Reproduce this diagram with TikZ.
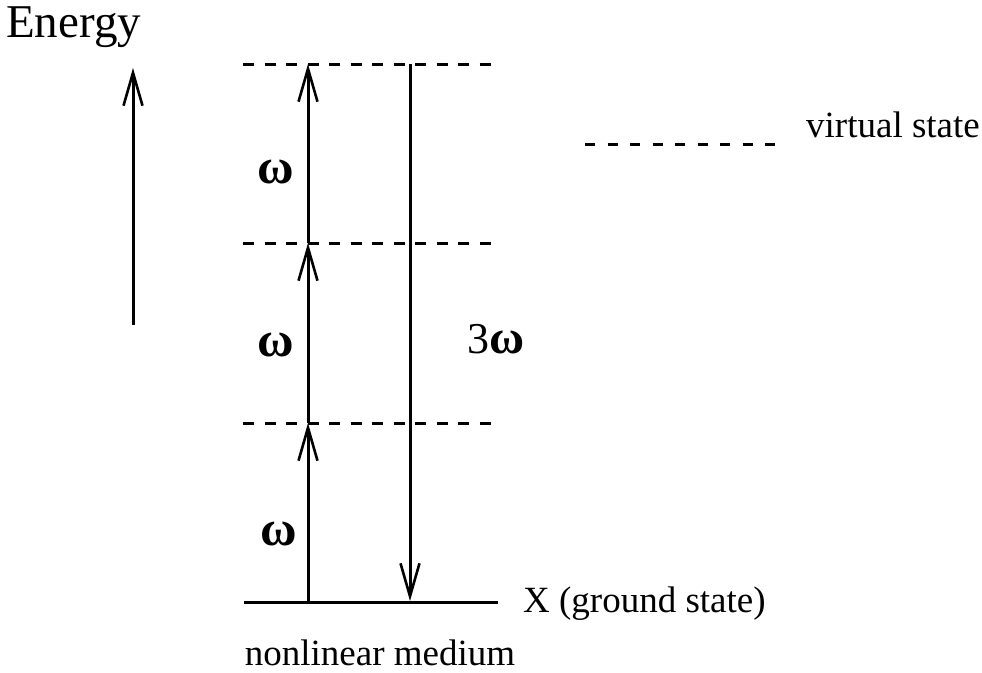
\documentclass[tikz,border=0pt]{standalone}
\usepackage{fontspec}
\setmainfont{Liberation Serif}
\usetikzlibrary{arrows.meta}
\tikzset{
  lvl/.style={line width=3pt, dash pattern=on 11pt off 10.5pt},
  gnd/.style={line width=3pt},
  photon/.style={line width=3pt, -{Straight Barb[length=33pt,width=19pt,line width=2.6pt]}},
  lbl/.style={inner sep=0pt, font=\fontsize{37}{44}\selectfont},
  big/.style={inner sep=0pt, font=\fontsize{44}{52}\selectfont},
  omg/.style={inner sep=0pt, font=\fontsize{50}{56}\selectfont\bfseries},
}
\begin{document}
\begin{tikzpicture}[x=1pt,y=-1pt]
\useasboundingbox (0,0) rectangle (982,672);
% energy axis
\coordinate (eb) at (133,325);
\coordinate (et) at (133,68);
\draw[photon] (eb) -- (et);
\node[big, font=\fontsize{47}{52}\selectfont, anchor=base west] (energy) at (6,37) {Energy};
% levels
\coordinate (l3a) at (243,64);  \coordinate (l3b) at (495,64);
\coordinate (l2a) at (243,243); \coordinate (l2b) at (495,243);
\coordinate (l1a) at (243,423); \coordinate (l1b) at (495,423);
\coordinate (g0a) at (244,602); \coordinate (g0b) at (498,602);
\draw[lvl] (l3a) -- (l3b);
\draw[lvl] (l2a) -- (l2b);
\draw[lvl] (l1a) -- (l1b);
\draw[gnd] (g0a) -- (g0b);
% up photons
\coordinate (u0) at (308,602);
\coordinate (u1) at (308,423);
\coordinate (u2) at (308,243);
\coordinate (u3) at (308,64);
\draw[photon] (u0) -- (u1);
\draw[photon] (u1) -- (u2);
\draw[photon] (u2) -- (u3);
% down photon
\coordinate (d3) at (410,64);
\coordinate (d0) at (410,601);
\draw[photon] (d3) -- (d0);
% labels
\node[omg, anchor=base] (w3) at (276,183) {ω};
\node[omg, anchor=base] (w2) at (276,356) {ω};
\node[omg, anchor=base] (w1) at (279,545) {ω};
\node[big, anchor=base west] (w3x) at (467,353) {3\textbf{\fontsize{48}{52}\selectfont ω}};
\node[lbl, anchor=base west] (gs) at (523,612) {X (ground state)};
\node[lbl, anchor=base] (nm) at (380,665) {nonlinear medium};
% legend
\coordinate (la) at (585,144);
\coordinate (lb) at (775,144);
\draw[lvl, dash pattern=on 10pt off 12.5pt] (la) -- (lb);
\node[lbl, anchor=base west] (vs) at (806,137) {virtual state};
\end{tikzpicture}
\end{document}
